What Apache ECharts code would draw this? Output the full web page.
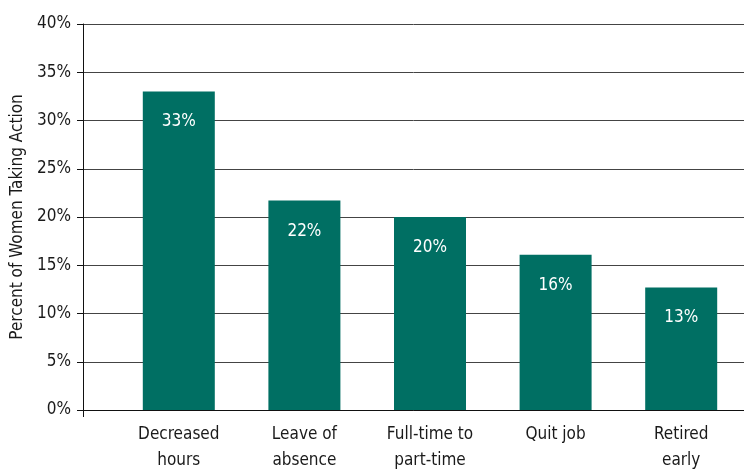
<!DOCTYPE html>
<html>
<head>
<meta charset="utf-8">
<script src="https://cdn.jsdelivr.net/npm/echarts@6/dist/echarts.min.js"></script>
<style>
  html, body { margin: 0; padding: 0; background: #fff; }
  #main { width: 744px; height: 470px; }
</style>
</head>
<body>
<div id="main"></div>
<script>
var categories = ['Decreased\nhours', 'Leave of\nabsence', 'Full-time to\npart-time', 'Quit job', 'Retired\nearly'];
var values = [33, 21.7, 20, 16.1, 12.7];
var barLabels = ['33%', '22%', '20%', '16%', '13%'];
var yTicks = [0, 5, 10, 15, 20, 25, 30, 35, 40];

var font = "'DejaVu Sans Condensed', 'Liberation Sans Narrow', sans-serif";
var myChart = echarts.init(document.getElementById('main'));

myChart.setOption({
  animation: false,
  grid: [
    // bars
    { left: 116, right: 0, top: 24, bottom: 60, outerBoundsMode: 'none' },
    // axis + gridlines
    { left: 83, right: 0, top: 24, bottom: 60, outerBoundsMode: 'none' }
  ],
  xAxis: [
    {
      gridIndex: 0,
      type: 'category',
      data: categories,
      axisLine: { show: false },
      axisTick: { show: false },
      axisLabel: {
        margin: 12,
        fontFamily: font,
        fontSize: 17,
        lineHeight: 26,
        color: '#1a1a1a'
      }
    },
    {
      gridIndex: 1,
      type: 'value',
      min: 0,
      max: 1,
      interval: 1,
      axisLine: { show: true, lineStyle: { color: '#111', width: 1 } },
      axisTick: { show: true, length: 7, lineStyle: { color: '#111' } },
      axisLabel: { show: false },
      splitLine: { show: false }
    }
  ],
  yAxis: [
    {
      gridIndex: 0,
      type: 'value',
      min: yTicks[0],
      max: yTicks[yTicks.length - 1],
      interval: 5,
      show: false
    },
    {
      gridIndex: 1,
      type: 'value',
      min: yTicks[0],
      max: yTicks[yTicks.length - 1],
      interval: 5,
      name: 'Percent of Women Taking Action',
      nameLocation: 'middle',
      nameGap: 57,
      nameTextStyle: { fontFamily: font, fontSize: 17, color: '#1a1a1a' },
      axisLine: { show: true, lineStyle: { color: '#111', width: 1 } },
      axisTick: { show: true, length: 6, lineStyle: { color: '#111' } },
      axisLabel: {
        margin: 12,
        fontFamily: font,
        fontSize: 17,
        color: '#1a1a1a',
        formatter: '{value}%'
      },
      splitLine: { show: true, lineStyle: { color: '#444', width: 1 } }
    }
  ],
  series: [
    {
      type: 'bar',
      xAxisIndex: 0,
      yAxisIndex: 0,
      data: values,
      barWidth: 72,
      itemStyle: { color: '#006f63' },
      label: {
        show: true,
        position: 'insideTop',
        distance: 22,
        fontFamily: font,
        fontSize: 17,
        color: '#ffffff',
        formatter: function (p) { return barLabels[p.dataIndex]; }
      }
    }
  ]
});
</script>
</body>
</html>
